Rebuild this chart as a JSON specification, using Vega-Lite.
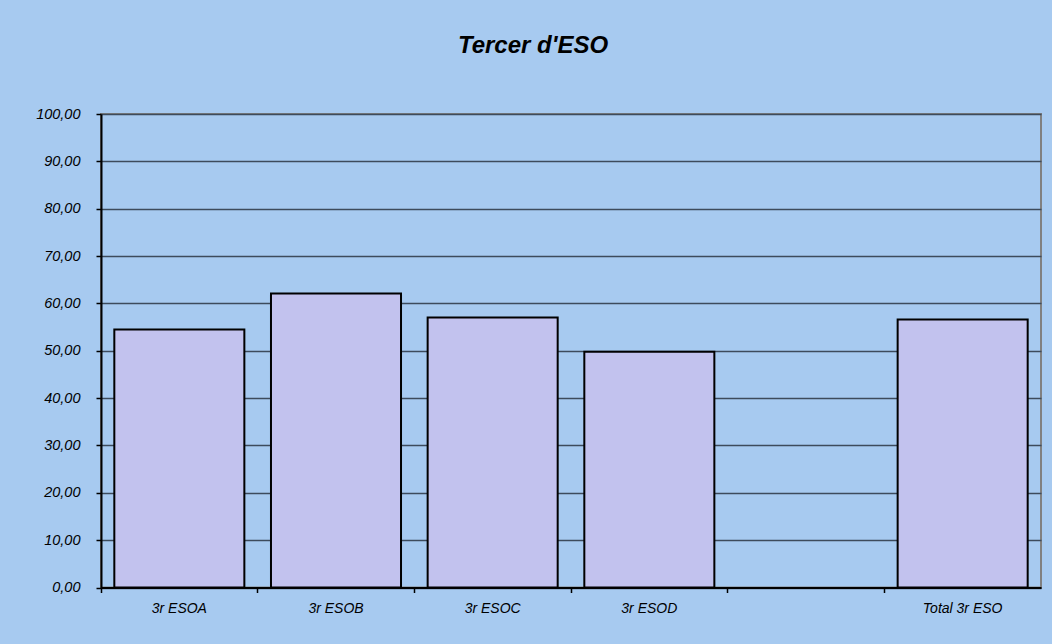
{
  "$schema": "https://vega.github.io/schema/vega-lite/v6.json",
  "width": 940,
  "height": 473.5,
  "autosize": {"type": "none"},
  "padding": {"left": 101, "top": 114, "right": 11, "bottom": 56.5},
  "background": "#a7caf0",
  "title": {
    "text": "Tercer d'ESO",
    "font": "Liberation Sans",
    "fontSize": 24,
    "fontWeight": "bold",
    "fontStyle": "italic",
    "color": "#000000",
    "anchor": "middle",
    "baseline": "alphabetic",
    "offset": 29,
    "dx": -38
  },
  "config": {
    "view": {"fill": "#a7caf0", "stroke": "#808080", "strokeWidth": 2},
    "axis": {"labelFont": "Liberation Sans", "labelFontStyle": "italic", "labelColor": "#000000"}
  },
  "data": {
    "values": [
      {"grup": "3r ESOA", "valor": 54.5},
      {"grup": "3r ESOB", "valor": 62.1},
      {"grup": "3r ESOC", "valor": 57.0},
      {"grup": "3r ESOD", "valor": 49.8},
      {"grup": "Total 3r ESO", "valor": 56.6}
    ]
  },
  "resolve": {"axis": {"x": "independent"}},
  "layer": [
    {
      "mark": {"type": "bar", "fill": "#c2c2ee", "stroke": "#000000", "strokeWidth": 2},
      "encoding": {
        "x": {
          "field": "grup",
          "type": "nominal",
          "sort": null,
          "scale": {
            "domain": ["3r ESOA", "3r ESOB", "3r ESOC", "3r ESOD", "", "Total 3r ESO"],
            "paddingInner": 0.17,
            "paddingOuter": 0.085
          },
          "axis": {
            "orient": "bottom",
            "title": null,
            "labelAngle": 0,
            "labelFontSize": 14,
            "labelPadding": 14,
            "ticks": false,
            "domainColor": "#000000",
            "domainWidth": 2
          }
        },
        "y": {
          "field": "valor",
          "type": "quantitative",
          "scale": {"domain": [0, 100], "nice": false},
          "axis": {
            "title": null,
            "values": [0, 10, 20, 30, 40, 50, 60, 70, 80, 90, 100],
            "labelExpr": "replace(format(datum.value, '.2f'), '.', ',')",
            "labelFontSize": 14.5,
            "labelPadding": 16,
            "tickSize": 5,
            "tickColor": "#000000",
            "tickWidth": 1.5,
            "domainColor": "#000000",
            "domainWidth": 2,
            "grid": true,
            "gridColor": "#3d4b5c",
            "gridWidth": 1.5
          }
        }
      }
    },
    {
      "mark": {"type": "bar", "opacity": 0},
      "encoding": {
        "x": {
          "field": "grup",
          "type": "nominal",
          "sort": null,
          "axis": {
            "orient": "bottom",
            "title": null,
            "labels": false,
            "domain": false,
            "ticks": true,
            "tickSize": 5,
            "tickColor": "#000000",
            "tickWidth": 1.5,
            "bandPosition": -0.1024
          }
        },
        "y": {"field": "valor", "type": "quantitative"}
      }
    }
  ]
}
